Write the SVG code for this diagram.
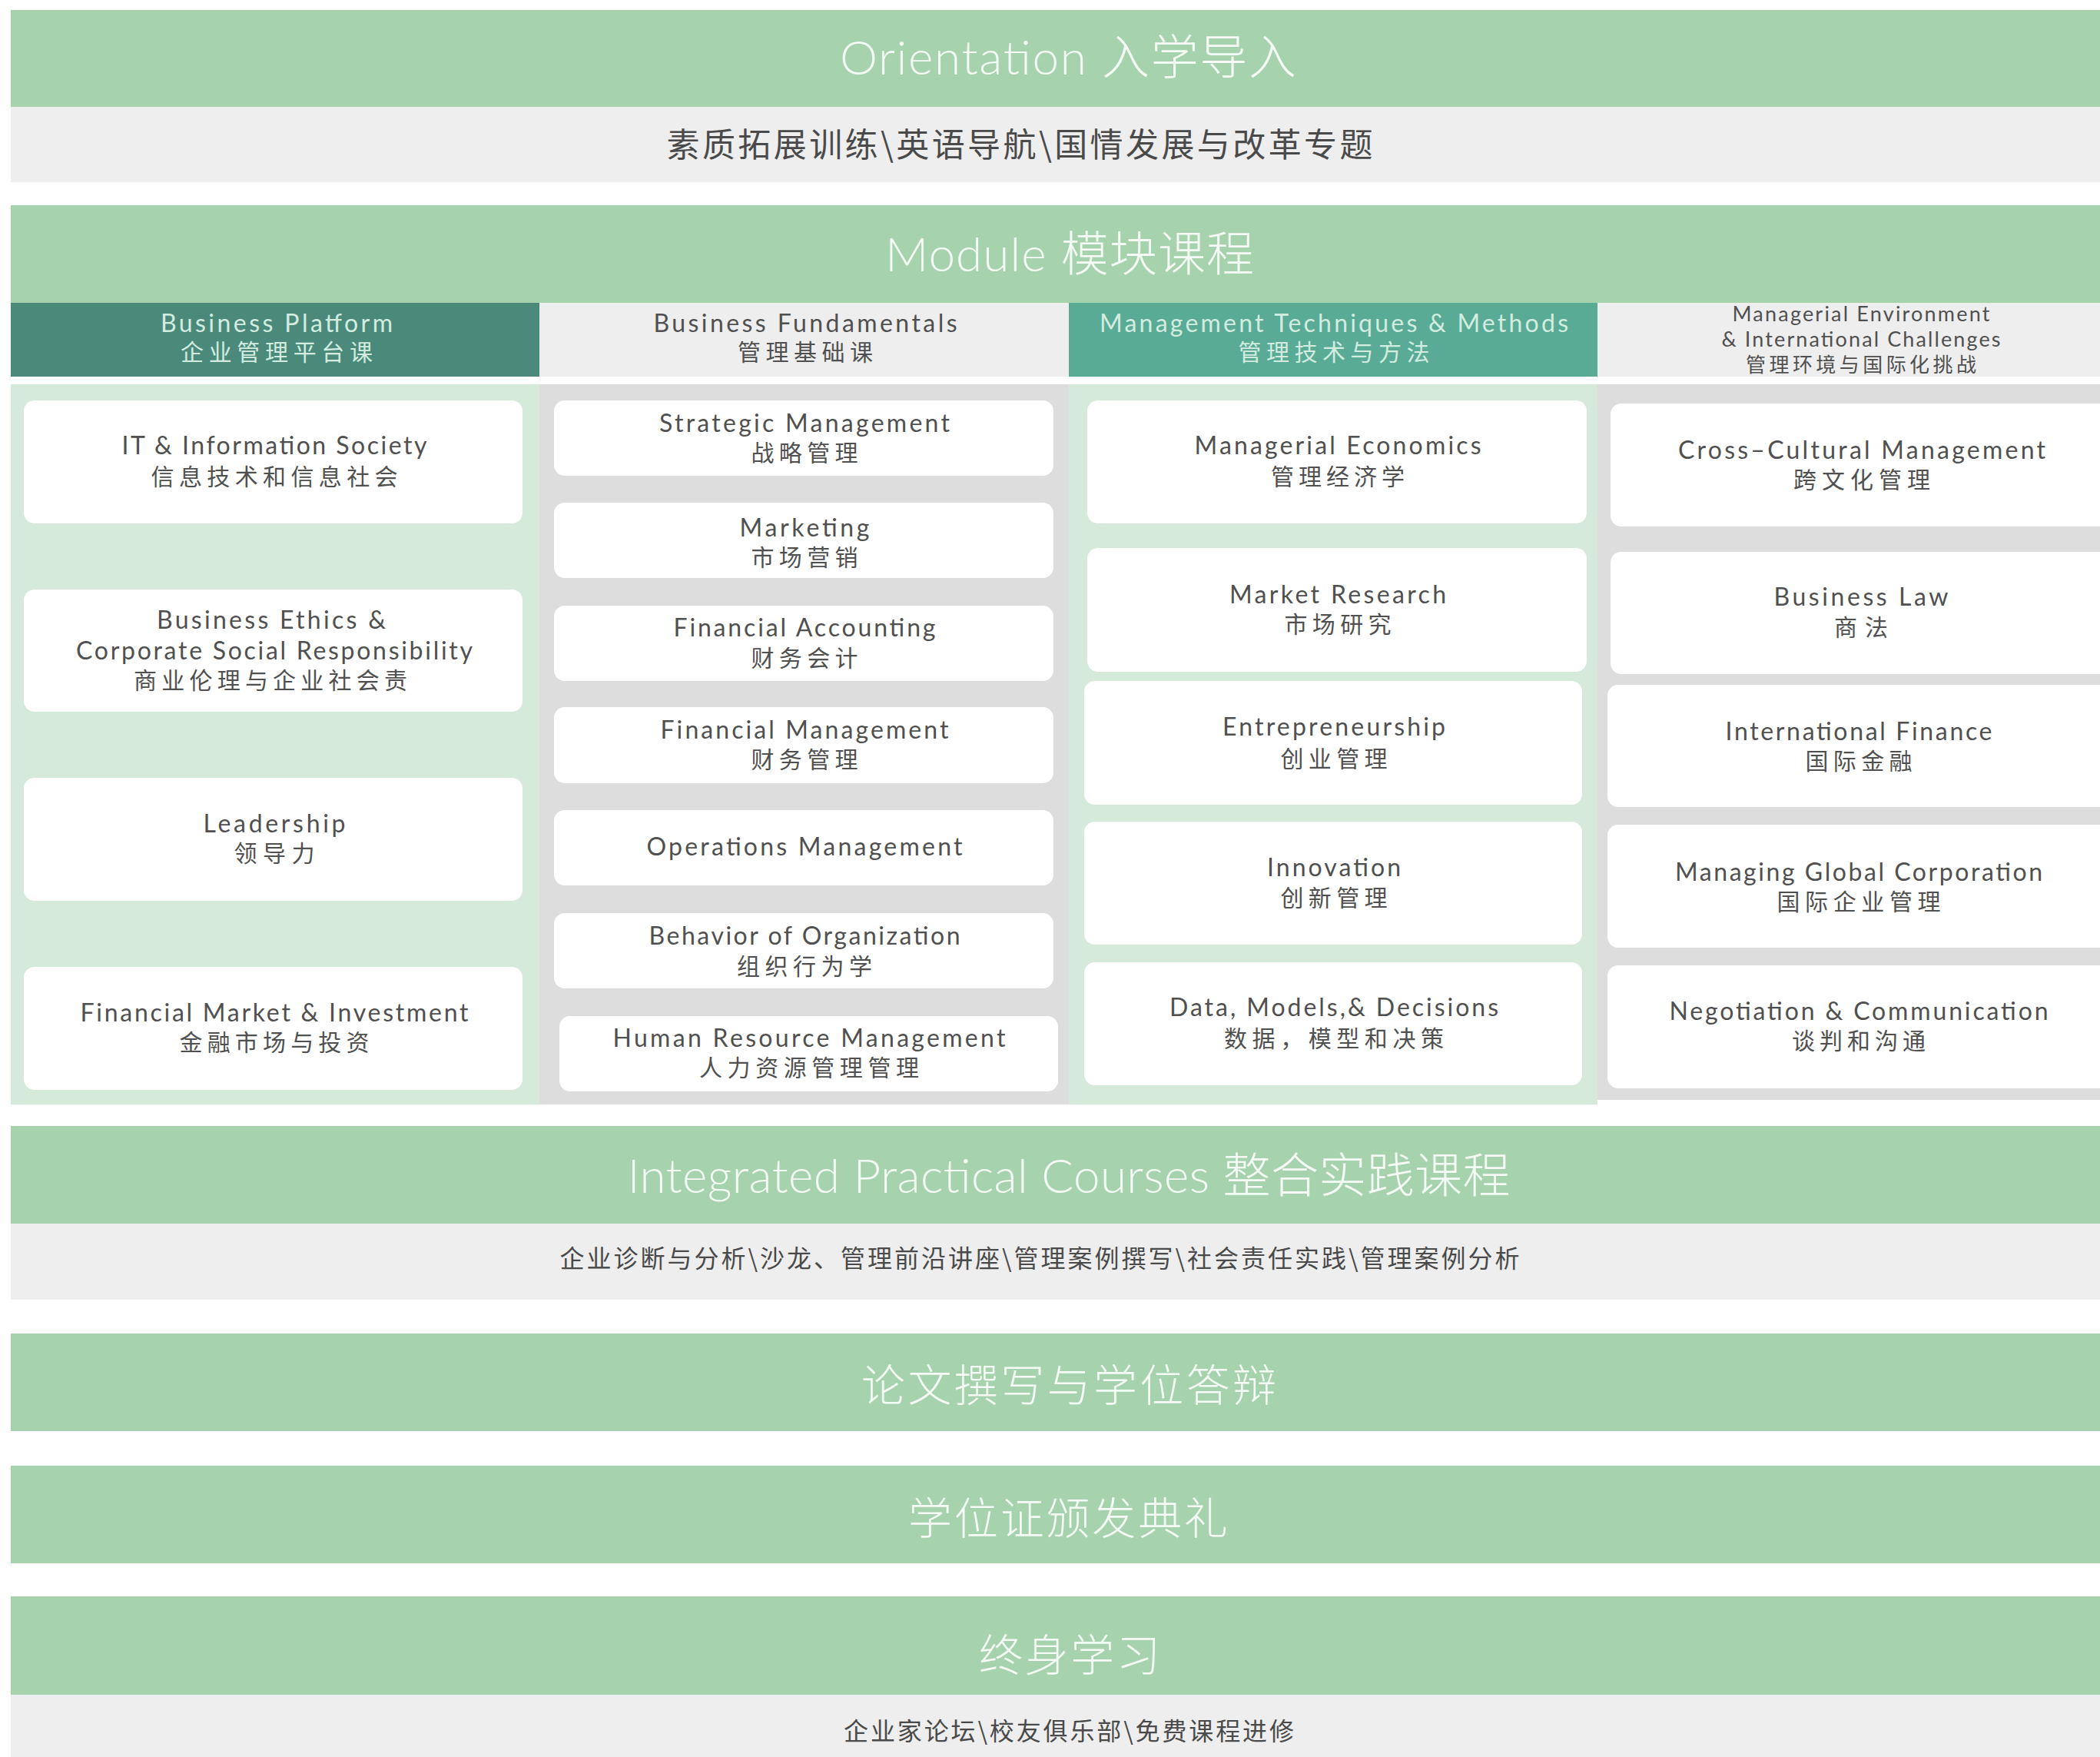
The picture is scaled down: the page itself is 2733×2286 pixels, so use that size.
<svg xmlns="http://www.w3.org/2000/svg" width="2733" height="2286" viewBox="0 0 2733 2286">
<style>
.band{fill:#a6d3ae}
.sub{fill:#eeeeee}
.hdrDark{fill:#4b8a7b}
.hdrMid{fill:#5aab96}
.hdrLight{fill:#eeeeee}
.bodyG{fill:#d5eadb}
.bodyY{fill:#dcdddc}
.card{fill:#ffffff}
.title{font-family:Lato,"Open Sans","Noto Sans CJK SC",sans-serif;font-weight:300;font-size:62px;fill:#f4faf4;text-anchor:middle}
.ctitle{font-family:"Noto Sans CJK SC",sans-serif;font-weight:300;font-size:57px;fill:#f4faf4;text-anchor:middle}
.subt{font-family:"Noto Sans CJK SC",sans-serif;font-size:43px;fill:#4a4a4a;text-anchor:middle}
.subs{font-family:"Noto Sans CJK SC",sans-serif;font-size:32px;fill:#4a4a4a;text-anchor:middle}
.en{font-family:Lato,"Open Sans",sans-serif;font-size:32px;fill:#505050;text-anchor:middle}
.cn{font-family:"Noto Sans CJK SC",sans-serif;font-size:30px;fill:#505050;text-anchor:middle}
.enL{font-family:Lato,"Open Sans",sans-serif;font-size:32px;fill:#d2ece0;text-anchor:middle}
.cnL{font-family:"Noto Sans CJK SC",sans-serif;font-size:30px;fill:#d2ece0;text-anchor:middle}
.enS{font-family:Lato,"Open Sans",sans-serif;font-size:27px;fill:#505050;text-anchor:middle}
.cnS{font-family:"Noto Sans CJK SC",sans-serif;font-size:26px;fill:#505050;text-anchor:middle}
</style>
<rect width="2733" height="2286" fill="#ffffff"/>

<g id="orientation">
<rect class="band" x="14" y="13" width="2719" height="126"/>
<text class="title" x="1390" y="97" textLength="594" lengthAdjust="spacing">Orientation 入学导入</text>
<rect class="sub" x="14" y="139" width="2719" height="98"/>
<text class="subt" x="1327" y="204" textLength="919" lengthAdjust="spacing">素质拓展训练\英语导航\国情发展与改革专题</text>
</g>

<g id="module">
<rect class="band" x="14" y="267" width="2719" height="127"/>
<text class="title" x="1392" y="353" textLength="480" lengthAdjust="spacing">Module 模块课程</text>
</g>

<g id="col1-header">
<rect class="hdrDark" x="14" y="394" width="688" height="96"/>
<text class="enL" x="360" y="432" textLength="302" lengthAdjust="spacing">Business Platform</text>
<text class="cnL" x="360" y="469" textLength="250" lengthAdjust="spacing">企业管理平台课</text>
</g>
<g id="col2-header">
<rect class="hdrLight" x="702" y="394" width="689" height="96"/>
<text class="en" x="1048" y="432" textLength="395" lengthAdjust="spacing">Business Fundamentals</text>
<text class="cn" x="1048" y="469" textLength="176" lengthAdjust="spacing">管理基础课</text>
</g>
<g id="col3-header">
<rect class="hdrMid" x="1391" y="394" width="688" height="96"/>
<text class="enL" x="1736" y="432" textLength="610" lengthAdjust="spacing">Management Techniques &amp; Methods</text>
<text class="cnL" x="1736" y="469" textLength="249" lengthAdjust="spacing">管理技术与方法</text>
</g>
<g id="col4-header">
<rect class="hdrLight" x="2079" y="394" width="654" height="96"/>
<text class="enS" x="2422" y="418" textLength="335" lengthAdjust="spacing">Managerial Environment</text>
<text class="enS" x="2422" y="451" textLength="363" lengthAdjust="spacing">&amp; International Challenges</text>
<text class="cnS" x="2422" y="484" textLength="300" lengthAdjust="spacing">管理环境与国际化挑战</text>
</g>

<g id="col-bodies">
<rect class="bodyG" x="14" y="500" width="688" height="937"/>
<rect class="bodyY" x="702" y="500" width="689" height="937"/>
<rect class="bodyG" x="1391" y="500" width="688" height="937"/>
<rect class="bodyY" x="2079" y="500" width="654" height="931"/>
</g>

<!-- Column 1 -->
<g id="it">
<rect class="card" x="31" y="521" width="649" height="160" rx="14"/>
<text class="en" x="357" y="591" textLength="397" lengthAdjust="spacing">IT &amp; Information Society</text>
<text class="cn" x="357" y="631" textLength="321" lengthAdjust="spacing">信息技术和信息社会</text>
</g>
<g id="ethics">
<rect class="card" x="31" y="767" width="649" height="159" rx="14"/>
<text class="en" x="353" y="818" textLength="298" lengthAdjust="spacing">Business Ethics &amp;</text>
<text class="en" x="357" y="858" textLength="516" lengthAdjust="spacing">Corporate Social Responsibility</text>
<text class="cn" x="352" y="896" textLength="356" lengthAdjust="spacing">商业伦理与企业社会责</text>
</g>
<g id="leadership">
<rect class="card" x="31" y="1012" width="649" height="160" rx="14"/>
<text class="en" x="357" y="1083" textLength="185" lengthAdjust="spacing">Leadership</text>
<text class="cn" x="357" y="1121" textLength="105" lengthAdjust="spacing">领导力</text>
</g>
<g id="finmarket">
<rect class="card" x="31" y="1258" width="649" height="160" rx="14"/>
<text class="en" x="357" y="1329" textLength="505" lengthAdjust="spacing">Financial Market &amp; Investment</text>
<text class="cn" x="357" y="1367" textLength="247" lengthAdjust="spacing">金融市场与投资</text>
</g>

<!-- Column 2 -->
<g id="strategic">
<rect class="card" x="721" y="521" width="650" height="98" rx="14"/>
<text class="en" x="1047" y="562" textLength="378" lengthAdjust="spacing">Strategic Management</text>
<text class="cn" x="1047" y="600" textLength="139" lengthAdjust="spacing">战略管理</text>
</g>
<g id="marketing">
<rect class="card" x="721" y="654" width="650" height="98" rx="14"/>
<text class="en" x="1047" y="698" textLength="169" lengthAdjust="spacing">Marketing</text>
<text class="cn" x="1047" y="736" textLength="139" lengthAdjust="spacing">市场营销</text>
</g>
<g id="finacc">
<rect class="card" x="721" y="788" width="650" height="98" rx="14"/>
<text class="en" x="1047" y="828" textLength="341" lengthAdjust="spacing">Financial Accounting</text>
<text class="cn" x="1047" y="867" textLength="139" lengthAdjust="spacing">财务会计</text>
</g>
<g id="finmgmt">
<rect class="card" x="721" y="920" width="650" height="99" rx="14"/>
<text class="en" x="1047" y="961" textLength="375" lengthAdjust="spacing">Financial Management</text>
<text class="cn" x="1047" y="999" textLength="139" lengthAdjust="spacing">财务管理</text>
</g>
<g id="operations">
<rect class="card" x="721" y="1054" width="650" height="98" rx="14"/>
<text class="en" x="1047" y="1113" textLength="411" lengthAdjust="spacing">Operations Management</text>
</g>
<g id="behavior">
<rect class="card" x="721" y="1188" width="650" height="98" rx="14"/>
<text class="en" x="1047" y="1229" textLength="405" lengthAdjust="spacing">Behavior of Organization</text>
<text class="cn" x="1047" y="1268" textLength="176" lengthAdjust="spacing">组织行为学</text>
</g>
<g id="hr">
<rect class="card" x="728" y="1322" width="649" height="98" rx="14"/>
<text class="en" x="1053" y="1362" textLength="511" lengthAdjust="spacing">Human Resource Management</text>
<text class="cn" x="1053" y="1400" textLength="286" lengthAdjust="spacing">人力资源管理管理</text>
</g>

<!-- Column 3 -->
<g id="maneco">
<rect class="card" x="1415" y="521" width="650" height="160" rx="14"/>
<text class="en" x="1741" y="591" textLength="373" lengthAdjust="spacing">Managerial Economics</text>
<text class="cn" x="1741" y="631" textLength="174" lengthAdjust="spacing">管理经济学</text>
</g>
<g id="marketresearch">
<rect class="card" x="1415" y="713" width="650" height="161" rx="14"/>
<text class="en" x="1741" y="785" textLength="282" lengthAdjust="spacing">Market Research</text>
<text class="cn" x="1741" y="823" textLength="139" lengthAdjust="spacing">市场研究</text>
</g>
<g id="entrepreneurship">
<rect class="card" x="1411" y="886" width="648" height="161" rx="14"/>
<text class="en" x="1736" y="957" textLength="290" lengthAdjust="spacing">Entrepreneurship</text>
<text class="cn" x="1736" y="998" textLength="139" lengthAdjust="spacing">创业管理</text>
</g>
<g id="innovation">
<rect class="card" x="1411" y="1069" width="648" height="160" rx="14"/>
<text class="en" x="1736" y="1140" textLength="174" lengthAdjust="spacing">Innovation</text>
<text class="cn" x="1736" y="1179" textLength="139" lengthAdjust="spacing">创新管理</text>
</g>
<g id="data">
<rect class="card" x="1411" y="1252" width="648" height="160" rx="14"/>
<text class="en" x="1736" y="1322" textLength="428" lengthAdjust="spacing">Data, Models,&amp; Decisions</text>
<text class="cn" x="1736" y="1362" textLength="286" lengthAdjust="spacing">数据，模型和决策</text>
</g>

<!-- Column 4 -->
<g id="crosscultural">
<rect class="card" x="2096" y="525" width="660" height="160" rx="14"/>
<text class="en" x="2423" y="597" textLength="478" lengthAdjust="spacing">Cross–Cultural Management</text>
<text class="cn" x="2423" y="635" textLength="178" lengthAdjust="spacing">跨文化管理</text>
</g>
<g id="businesslaw">
<rect class="card" x="2096" y="718" width="660" height="159" rx="14"/>
<text class="en" x="2422" y="788" textLength="227" lengthAdjust="spacing">Business Law</text>
<text class="cn" x="2422" y="827" textLength="70" lengthAdjust="spacing">商法</text>
</g>
<g id="intfinance">
<rect class="card" x="2092" y="891" width="664" height="159" rx="14"/>
<text class="en" x="2419" y="963" textLength="347" lengthAdjust="spacing">International Finance</text>
<text class="cn" x="2419" y="1001" textLength="139" lengthAdjust="spacing">国际金融</text>
</g>
<g id="managingglobal">
<rect class="card" x="2092" y="1073" width="664" height="160" rx="14"/>
<text class="en" x="2419" y="1146" textLength="478" lengthAdjust="spacing">Managing Global Corporation</text>
<text class="cn" x="2419" y="1184" textLength="213" lengthAdjust="spacing">国际企业管理</text>
</g>
<g id="negotiation">
<rect class="card" x="2092" y="1256" width="664" height="160" rx="14"/>
<text class="en" x="2419" y="1327" textLength="493" lengthAdjust="spacing">Negotiation &amp; Communication</text>
<text class="cn" x="2419" y="1365" textLength="174" lengthAdjust="spacing">谈判和沟通</text>
</g>

<g id="integrated">
<rect class="band" x="14" y="1465" width="2719" height="127"/>
<text class="title" x="1391" y="1552" textLength="1149" lengthAdjust="spacing">Integrated Practical Courses 整合实践课程</text>
<rect class="sub" x="14" y="1592" width="2719" height="99"/>
<text class="subs" x="1353" y="1649" textLength="1249" lengthAdjust="spacing">企业诊断与分析\沙龙、管理前沿讲座\管理案例撰写\社会责任实践\管理案例分析</text>
</g>

<g id="thesis">
<rect class="band" x="14" y="1735" width="2719" height="127"/>
<text class="ctitle" x="1391" y="1823" textLength="540" lengthAdjust="spacing">论文撰写与学位答辩</text>
</g>

<g id="graduation">
<rect class="band" x="14" y="1907" width="2719" height="127"/>
<text class="ctitle" x="1390" y="1996" textLength="416" lengthAdjust="spacing">学位证颁发典礼</text>
</g>

<g id="lifelong">
<rect class="band" x="14" y="2077" width="2719" height="128"/>
<text class="ctitle" x="1392" y="2174" textLength="236" lengthAdjust="spacing">终身学习</text>
<rect class="sub" x="14" y="2205" width="2719" height="81"/>
<text class="subs" x="1391" y="2264" textLength="586" lengthAdjust="spacing">企业家论坛\校友俱乐部\免费课程进修</text>
</g>

<g id="connectors"></g>
</svg>
